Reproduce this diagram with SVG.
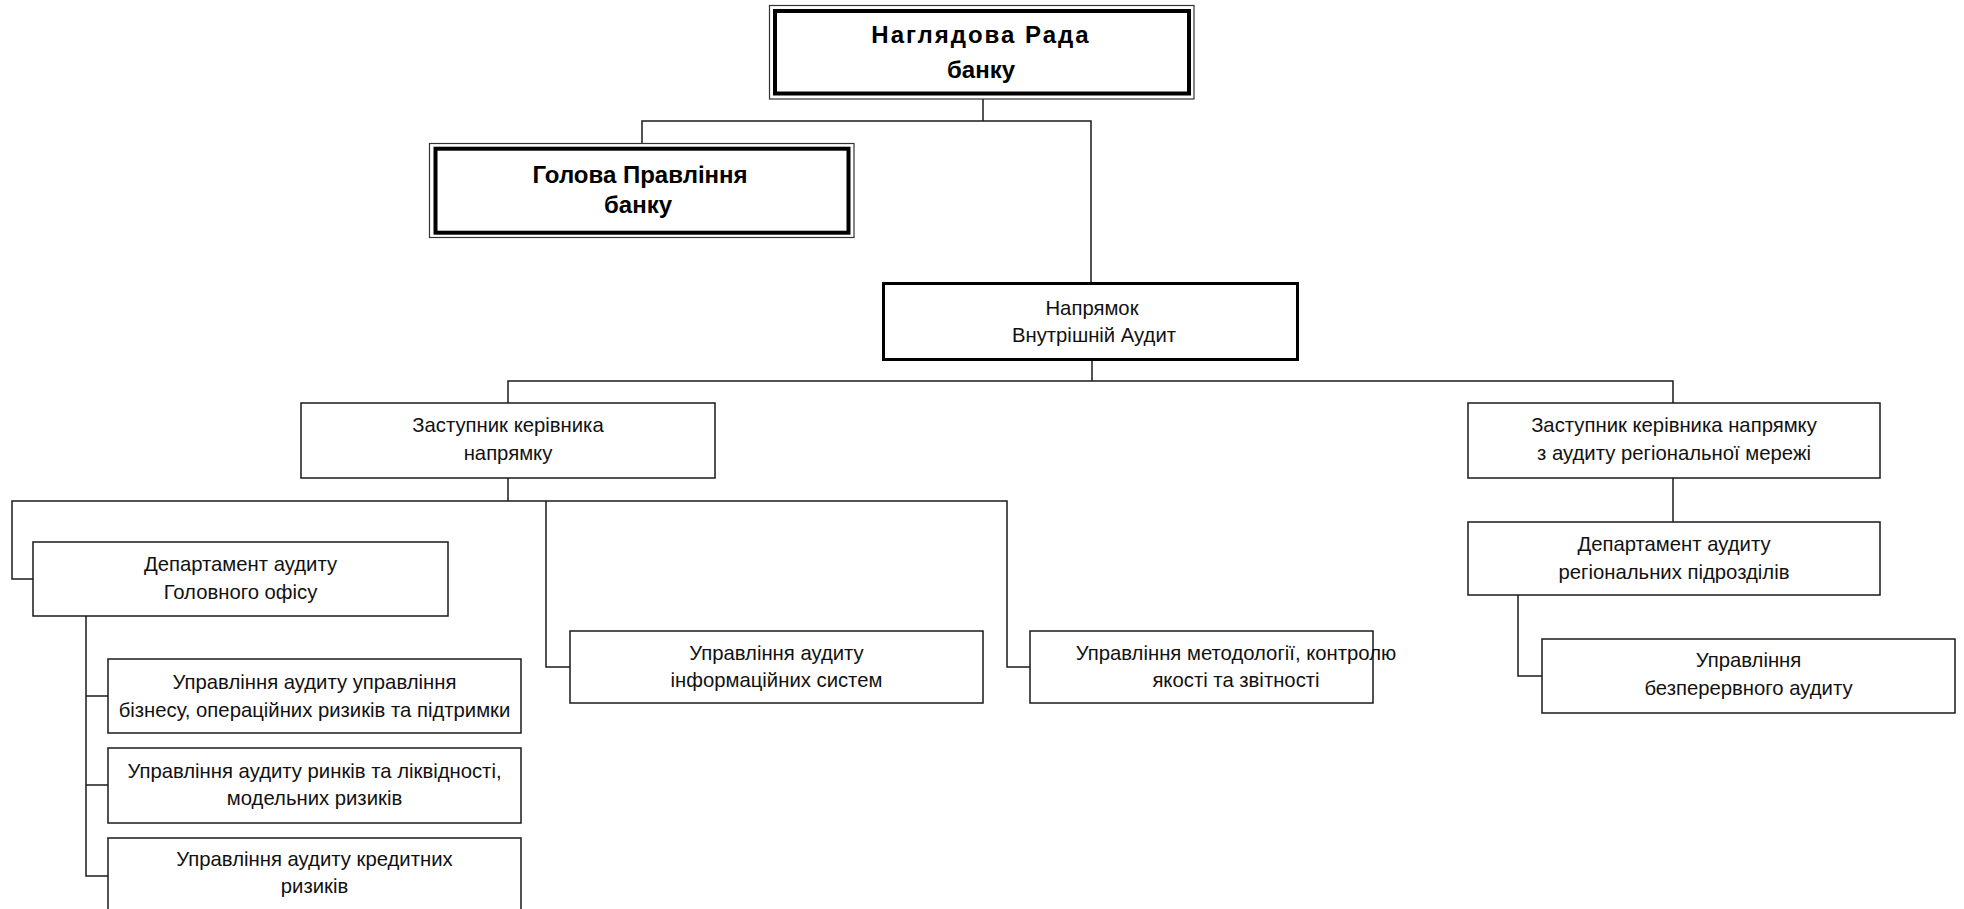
<svg xmlns="http://www.w3.org/2000/svg" width="1964" height="909" viewBox="0 0 1964 909">
<style>
.bg{fill:#fff}
.box{fill:#fff;stroke:#1a1a1a;stroke-width:1.5}
.thin{fill:#fff;stroke:#333;stroke-width:1.2}
.thick{fill:none;stroke:#000;stroke-width:4}
.main{fill:#fff;stroke:#000;stroke-width:3}
.conn{fill:none;stroke:#1a1a1a;stroke-width:1.5}
.t{font-family:"Liberation Sans",Arial,sans-serif;font-size:20.3px;fill:#111;text-anchor:middle}
.b{font-family:"Liberation Sans",Arial,sans-serif;font-size:24px;font-weight:bold;fill:#000;text-anchor:middle}
</style>
<rect class="bg" x="0" y="0" width="1964" height="909"/>
<g id="connectors">
<polyline class="conn" points="983,99 983,121"/>
<polyline class="conn" points="642,143 642,121 1091,121 1091,283"/>
<polyline class="conn" points="1092,360 1092,381"/>
<polyline class="conn" points="508,403 508,381 1673,381 1673,403"/>
<polyline class="conn" points="508,478 508,501"/>
<polyline class="conn" points="33,579 12,579 12,501 1007,501 1007,667 1030,667"/>
<polyline class="conn" points="546,501 546,667 570,667"/>
<polyline class="conn" points="86,616 86,876 108,876"/>
<polyline class="conn" points="86,696 108,696"/>
<polyline class="conn" points="86,785 108,785"/>
<polyline class="conn" points="1673,478 1673,522"/>
<polyline class="conn" points="1518,595 1518,676 1542,676"/>
</g>
<g id="nahliadova-rada">
<rect class="thin" x="769.5" y="5.5" width="424.5" height="93.5"/>
<rect class="thick" x="775" y="11" width="414" height="82.5"/>
<text class="b" x="981" y="43" letter-spacing="2">Наглядова Рада</text>
<text class="b" x="981" y="78">банку</text>
</g>
<g id="holova-pravlinnia">
<rect class="thin" x="429.5" y="143.5" width="424.5" height="94"/>
<rect class="thick" x="435.5" y="148.7" width="413" height="84"/>
<text class="b" x="640" y="183">Голова Правління</text>
<text class="b" x="638" y="213">банку</text>
</g>
<g id="napriamok">
<rect class="main" x="883.5" y="283.5" width="414" height="76"/>
<text class="t" x="1092" y="315">Напрямок</text>
<text class="t" x="1094" y="342">Внутрішній Аудит</text>
</g>
<g id="zastupnyk-1">
<rect class="box" x="301" y="403" width="414" height="75"/>
<text class="t" x="508" y="432">Заступник керівника</text>
<text class="t" x="508" y="460">напрямку</text>
</g>
<g id="zastupnyk-2">
<rect class="box" x="1468" y="403" width="412" height="75"/>
<text class="t" x="1674" y="432">Заступник керівника напрямку</text>
<text class="t" x="1674" y="460">з аудиту регіональної мережі</text>
</g>
<g id="departament-ho">
<rect class="box" x="33" y="542" width="415" height="74"/>
<text class="t" x="240.5" y="571">Департамент аудиту</text>
<text class="t" x="240.5" y="599">Головного офісу</text>
</g>
<g id="departament-reg">
<rect class="box" x="1468" y="522" width="412" height="73"/>
<text class="t" x="1674" y="551">Департамент аудиту</text>
<text class="t" x="1674" y="579">регіональних підрозділів</text>
</g>
<g id="upr-biznes">
<rect class="box" x="108" y="659" width="413" height="74"/>
<text class="t" x="314.5" y="689">Управління аудиту управління</text>
<text class="t" x="314.5" y="717">бізнесу, операційних ризиків та підтримки</text>
</g>
<g id="upr-rynky">
<rect class="box" x="108" y="748" width="413" height="75"/>
<text class="t" x="314.5" y="778">Управління аудиту ринків та ліквідності,</text>
<text class="t" x="314.5" y="805">модельних ризиків</text>
</g>
<g id="upr-kredyt">
<rect class="box" x="108" y="838" width="413" height="75"/>
<text class="t" x="314.5" y="866">Управління аудиту кредитних</text>
<text class="t" x="314.5" y="893">ризиків</text>
</g>
<g id="upr-is">
<rect class="box" x="570" y="631" width="413" height="72"/>
<text class="t" x="776.5" y="660">Управління аудиту</text>
<text class="t" x="776.5" y="687">інформаційних систем</text>
</g>
<g id="upr-metod">
<rect class="box" x="1030" y="631" width="343" height="72"/>
<text class="t" x="1236" y="660">Управління методології, контролю</text>
<text class="t" x="1236" y="687">якості та звітності</text>
</g>
<g id="upr-bezperervnyi">
<rect class="box" x="1542" y="639" width="413" height="74"/>
<text class="t" x="1748.5" y="667">Управління</text>
<text class="t" x="1748.5" y="695">безперервного аудиту</text>
</g>
</svg>
